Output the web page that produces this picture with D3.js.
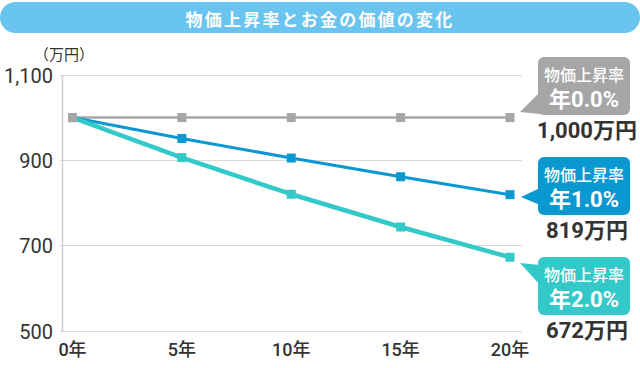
<!DOCTYPE html>
<html><head><meta charset="utf-8">
<script src="https://cdn.jsdelivr.net/npm/d3@7"></script>
<style>
html,body{margin:0;padding:0;background:#fff;}
svg{display:block;font-family:Roboto,"Noto Sans CJK JP",sans-serif;}
</style></head>
<body>
<svg id="c" width="640" height="368"></svg>
<script>
const title = "物価上昇率とお金の価値の変化";
const unitLabel = "（万円）";
const years = [0, 5, 10, 15, 20];
const xTickLabels = ["0年", "5年", "10年", "15年", "20年"];
const yTicks = [500, 700, 900, 1100];
const yTickLabels = ["500", "700", "900", "1,100"];
const seriesNames = ["年0.0%", "年1.0%", "年2.0%"];
const rate0 = [1000, 1000, 1000, 1000, 1000];
const rate1 = [1000, 951, 905, 861, 819];
const rate2 = [1000, 906, 820, 743, 672];
const endLabels = ["1,000万円", "819万円", "672万円"];
const calloutHead = "物価上昇率";

const colors = ["#a6a6a6", "#0a98d0", "#33c9c8"];
const widths = [2.5, 3, 4.5];

const svg = d3.select("#c");

// title bar
svg.append("rect").attr("x", 0).attr("y", 2).attr("width", 640).attr("height", 31)
  .attr("rx", 15.5).attr("fill", "#6ac4f0");
svg.append("text").attr("x", 320).attr("y", 18).attr("text-anchor", "middle")
  .attr("dominant-baseline", "central").attr("fill", "#fff").attr("font-size", 17)
  .attr("font-weight", 700).attr("letter-spacing", 2.2)
  .attr("font-family", "'Noto Sans CJK JP',sans-serif").text(title);

const x = d3.scaleLinear().domain([0, 20]).range([72.5, 510]);
const y = d3.scaleLinear().domain([500, 1100]).range([330.5, 75]);

// gridlines
svg.append("g").selectAll("line").data(yTicks).join("line")
  .attr("x1", 60).attr("x2", 522)
  .attr("y1", d => Math.round(y(d)) + 0.5).attr("y2", d => Math.round(y(d)) + 0.5)
  .attr("stroke", "#d9d9d9").attr("stroke-width", 1);
// left axis
svg.append("line").attr("x1", 62.5).attr("x2", 62.5).attr("y1", y(1100)).attr("y2", y(500) + 1)
  .attr("stroke", "#cfcfcf").attr("stroke-width", 1.5);

// y labels
svg.append("g").selectAll("text").data(yTicks).join("text")
  .attr("x", 53).attr("y", d => y(d) + 1).attr("text-anchor", "end")
  .attr("dominant-baseline", "central").attr("font-size", 20).attr("fill", "#333")
  .text((d, i) => yTickLabels[i]);
svg.append("text").attr("x", 64).attr("y", 53).attr("text-anchor", "middle")
  .attr("dominant-baseline", "central").attr("font-size", 15).attr("fill", "#333")
  .attr("font-family", "'Noto Sans CJK JP',sans-serif").text(unitLabel);

// x labels
svg.append("g").selectAll("text").data(years).join("text")
  .attr("x", d => x(d)).attr("y", 349).attr("text-anchor", "middle")
  .attr("dominant-baseline", "central").attr("font-size", 18).attr("font-weight", 500)
  .attr("fill", "#333").text((d, i) => xTickLabels[i]);

// lines
const series = [rate0, rate1, rate2];
const line = d3.line().x((d, i) => x(years[i])).y(d => y(d));
series.forEach((s, k) => {
  svg.append("path").datum(s).attr("d", line).attr("fill", "none")
    .attr("stroke", colors[k]).attr("stroke-width", widths[k]).attr("stroke-linejoin", "round");
});
[2, 1, 0].forEach(k => {
  svg.append("g").selectAll("rect").data(series[k]).join("rect")
    .attr("x", (d, i) => x(years[i]) - 4.5).attr("y", d => y(d) - 4.5)
    .attr("width", 9).attr("height", 9).attr("fill", colors[k]);
});

// callouts
const boxes = [
  {top: 57, tip: [520, 112], b1: 92, b2: 114},
  {top: 157, tip: [521, 197], b1: 188, b2: 205},
  {top: 257, tip: [520, 263], b1: 265, b2: 285}
];
boxes.forEach((b, k) => {
  const g = svg.append("g");
  g.append("path").attr("d", `M${b.tip[0]},${b.tip[1]}L540,${b.b1}L540,${b.b2}Z`).attr("fill", colors[k]);
  g.append("rect").attr("x", 538).attr("y", b.top).attr("width", 92).attr("height", 58)
    .attr("rx", 6).attr("fill", colors[k]);
  g.append("text").attr("x", 584).attr("y", b.top + 17).attr("text-anchor", "middle")
    .attr("dominant-baseline", "central").attr("fill", "#fff").attr("font-size", 16)
    .attr("font-weight", 500).attr("font-family", "'Noto Sans CJK JP',sans-serif").text(calloutHead);
  g.append("text").attr("x", 584).attr("y", b.top + 42).attr("text-anchor", "middle")
    .attr("dominant-baseline", "central").attr("fill", "#fff").attr("font-size", 22)
    .attr("font-weight", 700).text(seriesNames[k]);
  g.append("text").attr("x", 587).attr("y", b.top + 73).attr("text-anchor", "middle")
    .attr("dominant-baseline", "central").attr("fill", "#333").attr("font-size", 22)
    .attr("font-weight", 700).text(endLabels[k]);
});
</script>
</body></html>
